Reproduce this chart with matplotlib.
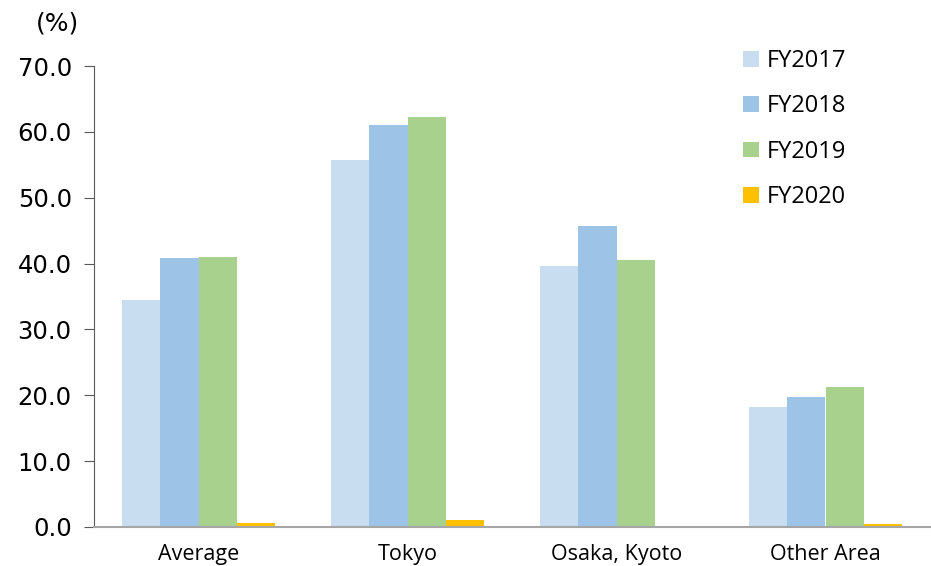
import numpy as np
import matplotlib
matplotlib.use('Agg')
import matplotlib.pyplot as plt

categories = ['Average', 'Tokyo', 'Osaka, Kyoto', 'Other Area']
years = ['FY2017', 'FY2018', 'FY2019', 'FY2020']
fy2017 = [34.5, 55.7, 39.6, 18.2]
fy2018 = [40.8, 61.0, 45.7, 19.8]
fy2019 = [41.0, 62.2, 40.5, 21.3]
fy2020 = [0.6, 1.0, 0.1, 0.4]
colors = ['#C9DDF1', '#9DC3E6', '#A9D18E', '#FFC000']

series = [fy2017, fy2018, fy2019, fy2020]

fig = plt.figure(figsize=(9.31, 5.66), dpi=100)
ax = fig.add_axes([94/931, 1-527/566, 836/931, 461/566])

x = np.arange(len(categories))
w = 0.182
for i, (vals, name, c) in enumerate(zip(series, years, colors)):
    ax.bar(x + (i - 1.5) * w, vals, width=w, color=c, label=name)

ax.set_xlim(-0.5, 3.5)
ax.set_ylim(0, 70)
ticks = np.arange(0, 71, 10)
ax.set_yticks(ticks)
ax.set_yticklabels([f'{v:.1f}' for v in ticks], fontsize=17.5)
ax.set_xticks(x)
ax.set_xticklabels(categories, fontsize=15.5, family='Open Sans')
ax.tick_params(axis='x', length=0, pad=12)
ax.tick_params(axis='y', length=7, color='#595959', pad=9)
for s in ['top', 'right']:
    ax.spines[s].set_visible(False)
ax.spines['left'].set_color('#595959')
ax.spines['bottom'].set_color('#A6A6A6')
ax.spines['bottom'].set_linewidth(1.5)

fig.text(57/931, 1-24/566, '(%)', fontsize=18, ha='center', va='center')

leg = ax.legend(loc='upper left', bbox_to_anchor=(722/931, 1-28/566), bbox_transform=fig.transFigure,
                frameon=False, handlelength=0.65, handleheight=0.65,
                handletextpad=0.35, labelspacing=0.9,
                prop={'family': 'Open Sans', 'size': 17})

fig.savefig('out.png', dpi=100)
